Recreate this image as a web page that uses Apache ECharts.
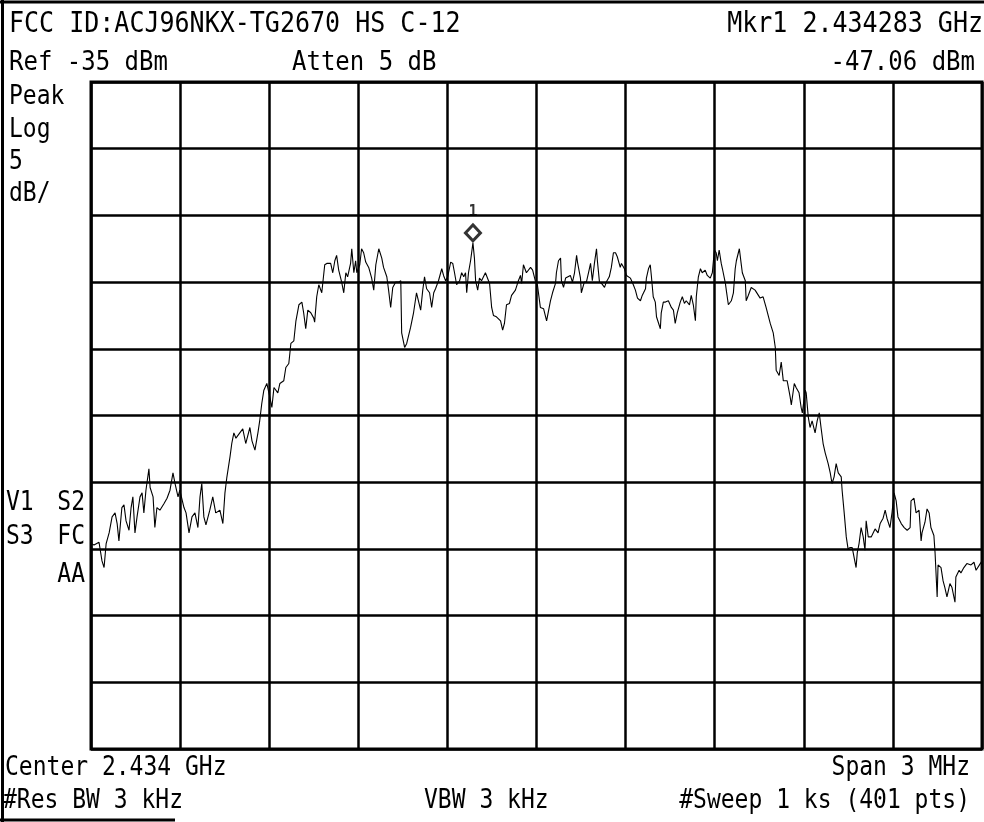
<!DOCTYPE html>
<html>
<head>
<meta charset="utf-8">
<script src="https://cdn.jsdelivr.net/npm/echarts@6/dist/echarts.min.js"></script>
<style>html,body{margin:0;padding:0;background:#fff;}#chart{width:984px;height:822px;}</style>
</head>
<body>
<div id="chart"></div>
<script>
// Frequency offset from centre (kHz) and measured level (dBm)
const freqOffsetKHz = [
-1500,-1490,-1473,-1463,-1456,-1449,-1439,-1429,-1419,-1412,-1406,-1396,-1389,-1382,-1372,-1365,-1359,-1352,-1345,-1335,
-1328,-1322,-1315,-1305,-1301,-1291,-1285,-1278,-1268,-1254,-1244,-1234,-1224,-1217,-1207,-1201,-1187,-1180,-1170,-1160,
-1150,-1140,-1133,-1127,-1120,-1113,-1100,-1090,-1080,-1066,-1056,-1049,-1043,-1032,-1026,-1019,-1012,-999,-989,-979,
-965,-958,-948,-938,-932,-925,-918,-908,-898,-891,-884,-871,-864,-851,-844,-834,-827,-817,-810,-800,
-790,-784,-777,-770,-760,-750,-747,-740,
-733,-723,-713,-706,-693,-686,-679,-673,-666,-656,-649,-642,-636,-626,-622,-615,-609,-605,-595,-589,
-582,-575,-565,-555,-548,-541,-531,-521,-515,-504,-498,-491,-484,-474,-464,-457,-454,-444,-437,-424,
-414,-404,-390,-383,-377,-370,-360,-353,-346,-340,-330,-319,-313,-306,-299,-289,-282,-276,-269,-259,
-252,-245,-239,-235,-229,-222,-214,-209,-205,-198,-192,-185,-172,-168,-158,-151,-145,-135,-121,-114,
-108,-101,-91,-84,-71,-61,-54,-50,-44,-34,-20,-13,-3,3,13,24,34,
40,47,54,64,67,74,81,84,91,98,104,114,121,128,135,138,148,151,161,168,
175,182,188,195,202,205,212,219,229,235,245,252,259,266,272,282,286,296,303,316,
326,333,340,350,356,367,370,377,383,387,393,400,404,410,417,420,427,434,444,454,
461,467,474,484,491,498,504,515,521,528,535,538,545,552,558,568,575,585,592,599,
605,609,615,622,626,636,639,646,656,663,669,673,683,689,693,703,706,
713,723,736,753,763,773,787,797,804,807,817,824,831,837,844,854,858,868,874,884,
891,895,905,908,915,921,928,938,945,952,958,965,972,982,989,995,1002,1009,1016,1026,
1029,1036,1043,1049,1056,1063,1069,1076,1080,1086,1093,1100,1106,1110,1117,1127,1133,1140,1150,1157,
1167,1174,1180,1190,1197,1204,1211,1217,1228,1238,1248,1258,1261,1271,1278,1288,1295,1298,1308,1315,
1322,1328,1338,1342,1349,1352,1362,1369,1375,1382,1392,1399,1409,1412,1423,1429,1439,1449,1463,1473,
1480,1500
];
const levelDbm = [
-69.6,-69.7,-69.5,-70.9,-71.4,-69.6,-68.8,-67.6,-67.3,-68.1,-69.4,-66.9,-66.7,-67.9,-68.6,-66.9,-66.1,-68.8,-67.6,-66.1,
-65.8,-67.3,-65.6,-64.0,-65.4,-66.1,-68.4,-66.9,-67.1,-66.6,-66.2,-65.6,-64.3,-65.1,-66.1,-65.6,-66.9,-67.3,-68.8,-67.6,
-67.3,-68.4,-66.1,-65.1,-67.6,-68.2,-67.1,-66.1,-67.3,-67.1,-68.1,-65.8,-64.7,-63.1,-62.1,-61.3,-61.7,-61.3,-61.0,-62.1,
-60.9,-61.9,-62.6,-61.3,-60.4,-59.1,-58.1,-57.6,-58.6,-59.4,-57.9,-58.3,-57.6,-57.4,-56.4,-56.1,-54.6,-54.4,-52.9,-51.7,
-51.5,-52.3,-53.5,-52.1,-52.3,-52.7,-53.0,-51.1,
-50.2,-50.8,-48.7,-48.6,-48.6,-49.3,-48.4,-48.0,-49.1,-50.0,-50.8,-49.3,-49.6,-48.6,-47.5,-49.3,-48.4,-49.3,-48.7,-47.5,
-47.8,-48.5,-48.9,-49.7,-50.6,-48.7,-47.5,-48.2,-48.9,-49.6,-50.6,-51.9,-50.4,-50.0,-50.0,-49.9,-53.8,-54.9,-54.6,-53.4,
-52.3,-50.8,-52.1,-50.6,-49.6,-50.5,-50.8,-51.9,-50.8,-50.5,-49.9,-49.0,-49.5,-49.9,-49.6,-48.5,-48.6,-49.3,-50.2,-49.9,
-49.3,-49.6,-49.3,-50.8,-49.3,-48.4,-47.06,-48.2,-49.9,-50.6,-49.7,-49.9,-49.3,-49.3,-50.1,-51.9,-52.5,-52.6,-52.9,-53.6,
-53.1,-51.7,-51.6,-51.0,-50.6,-49.9,-49.5,-50.1,-48.7,-49.3,-48.9,-49.1,-50.0,-50.2,-51.9,-52.0,-52.9,
-52.9,-51.4,-50.8,-50.1,-49.3,-48.4,-48.2,-49.9,-50.4,-49.7,-49.6,-49.5,-50.0,-49.3,-48.0,-48.5,-49.7,-50.8,-50.0,-50.0,
-49.3,-48.6,-49.9,-48.6,-47.5,-48.4,-50.0,-50.1,-50.4,-50.0,-49.6,-48.9,-47.8,-47.8,-48.1,-48.9,-48.6,-49.0,-49.5,-49.7,
-50.2,-50.6,-51.2,-51.4,-51.0,-50.5,-49.7,-49.0,-48.7,-49.6,-51.1,-51.5,-52.6,-52.5,-53.5,-52.3,-51.5,-51.5,-51.4,-51.9,
-52.1,-53.1,-52.3,-51.5,-51.1,-51.6,-51.4,-51.7,-51.0,-51.7,-52.9,-51.1,-49.6,-49.0,-49.3,-49.1,-49.5,-49.7,-49.3,-47.6,
-47.8,-48.4,-47.6,-48.6,-49.0,-50.1,-50.6,-51.7,-51.4,-50.8,-49.0,-48.4,-47.5,-48.6,-49.3,-49.9,-51.4,
-51.0,-50.4,-50.6,-51.2,-51.1,-51.9,-53.1,-53.8,-54.9,-56.6,-57.0,-56.0,-57.4,-57.5,-57.4,-58.6,-59.2,-57.6,-57.9,-58.3,
-59.4,-59.8,-58.1,-58.3,-60.1,-60.9,-60.4,-61.3,-60.4,-59.8,-60.9,-62.1,-62.8,-63.6,-64.3,-65.1,-64.6,-63.6,-64.3,-64.6,
-65.6,-67.3,-69.1,-70.0,-69.9,-69.9,-70.6,-71.4,-70.3,-69.6,-68.4,-69.1,-70.1,-67.9,-69.1,-69.1,-69.0,-68.5,-68.8,-68.1,
-67.7,-67.1,-67.7,-68.4,-67.3,-65.8,-66.4,-67.6,-68.1,-68.4,-68.6,-68.4,-66.4,-66.2,-67.3,-67.1,-69.4,-68.8,-68.0,-67.0,
-67.3,-68.4,-69.0,-70.3,-73.6,-71.2,-71.4,-72.4,-72.9,-73.6,-72.6,-72.9,-74.0,-72.1,-71.6,-71.8,-71.4,-71.1,-71.2,-71.0,
-71.6,-70.9
];
const markerFreqKHz = [-214];
const markerLevelDbm = [-47.06];
const markerNames = ['1'];

const refLevelDbm = -35;
const dbPerDiv = 5;
const spanKHz = 3000;

const headerLeft = ['FCC ID:ACJ96NKX-TG2670 HS C-12', 'Ref -35 dBm'];
const headerMid = 'Atten 5 dB';
const headerRight = ['Mkr1 2.434283 GHz', '-47.06 dBm'];
const sideLabels = ['Peak', 'Log', '5', 'dB/'];
const statusLeft = ['V1', 'S3'];
const statusRight = ['S2', 'FC', 'AA'];
const footerLeft = ['Center 2.434 GHz', '#Res BW 3 kHz'];
const footerMid = 'VBW 3 kHz';
const footerRight = ['Span 3 MHz', '#Sweep 1 ks (401 pts)'];

const FONT = '"DejaVu Sans Mono", "Liberation Mono", monospace';
function txt(text, x, y, size, align) {
  return { type: 'text', silent: true, z: 10, x: x, y: y, scaleY: 1.14,
    style: { text: text, x: 0, y: 0, fill: '#000', fontSize: size, fontFamily: FONT,
      textAlign: align || 'left', textVerticalAlign: 'middle' } };
}
const graphics = [
  txt(headerLeft[0], 9, 25, 25), txt(headerLeft[1], 9, 63, 24),
  txt(headerMid, 292, 63, 24),
  txt(headerRight[0], 983, 25, 25, 'right'), txt(headerRight[1], 975, 63, 24, 'right'),
  txt(sideLabels[0], 9, 97, 23), txt(sideLabels[1], 9, 130, 23), txt(sideLabels[2], 9, 162, 23), txt(sideLabels[3], 9, 194, 23),
  txt(statusLeft[0], 6, 503, 23), txt(statusLeft[1], 6, 537, 23),
  txt(statusRight[0], 85, 503, 23, 'right'), txt(statusRight[1], 85, 537, 23, 'right'), txt(statusRight[2], 85, 575, 23, 'right'),
  txt(footerLeft[0], 5, 768, 23), txt(footerLeft[1], 3, 801, 23),
  txt(footerMid, 424, 801, 23),
  txt(footerRight[0], 970, 768, 23, 'right'), txt(footerRight[1], 970, 801, 23, 'right'),
  { type: 'line', silent: true, z: 10, shape: { x1: 0, y1: 2, x2: 984, y2: 2 }, style: { stroke: '#000', lineWidth: 3 } },
  { type: 'line', silent: true, z: 10, shape: { x1: 2.5, y1: 0, x2: 2.5, y2: 822 }, style: { stroke: '#000', lineWidth: 3 } },
  { type: 'line', silent: true, z: 10, shape: { x1: 0, y1: 820, x2: 175, y2: 820 }, style: { stroke: '#000', lineWidth: 3 } }
];

const tracePoints = freqOffsetKHz.map((f, i) => [f, levelDbm[i]]);
const markerPoints = markerFreqKHz.map((f, i) => ({ value: [f, markerLevelDbm[i]], name: markerNames[i] }));

const chart = echarts.init(document.getElementById('chart'), null, { renderer: 'canvas' });
const axisCommon = {
  axisLine: { show: false }, axisTick: { show: false }, axisLabel: { show: false },
  splitLine: { show: true, lineStyle: { color: '#000', width: 2.5 } }
};
chart.setOption({
  animation: false,
  backgroundColor: '#fff',
  grid: { left: 91, top: 82, width: 891, height: 667, show: true, borderColor: '#000', borderWidth: 3, backgroundColor: 'transparent' },
  xAxis: Object.assign({ type: 'value', min: -spanKHz / 2, max: spanKHz / 2, interval: spanKHz / 10 }, axisCommon),
  yAxis: Object.assign({ type: 'value', min: refLevelDbm - dbPerDiv * 10, max: refLevelDbm, interval: dbPerDiv }, axisCommon),
  series: [
    { type: 'line', data: tracePoints, symbol: 'none', lineStyle: { color: '#000', width: 1.1 }, z: 3 },
    { type: 'scatter', data: markerPoints, symbol: 'diamond', symbolSize: [15, 16], symbolOffset: [0, -10],
      itemStyle: { color: '#fff', borderColor: '#000', borderWidth: 3 },
      label: { show: true, formatter: '{b}', position: 'top', distance: 4, color: '#000', fontSize: 15, fontWeight: 'bold', fontFamily: FONT },
      z: 5 }
  ],
  graphic: graphics
});
</script>
</body>
</html>
